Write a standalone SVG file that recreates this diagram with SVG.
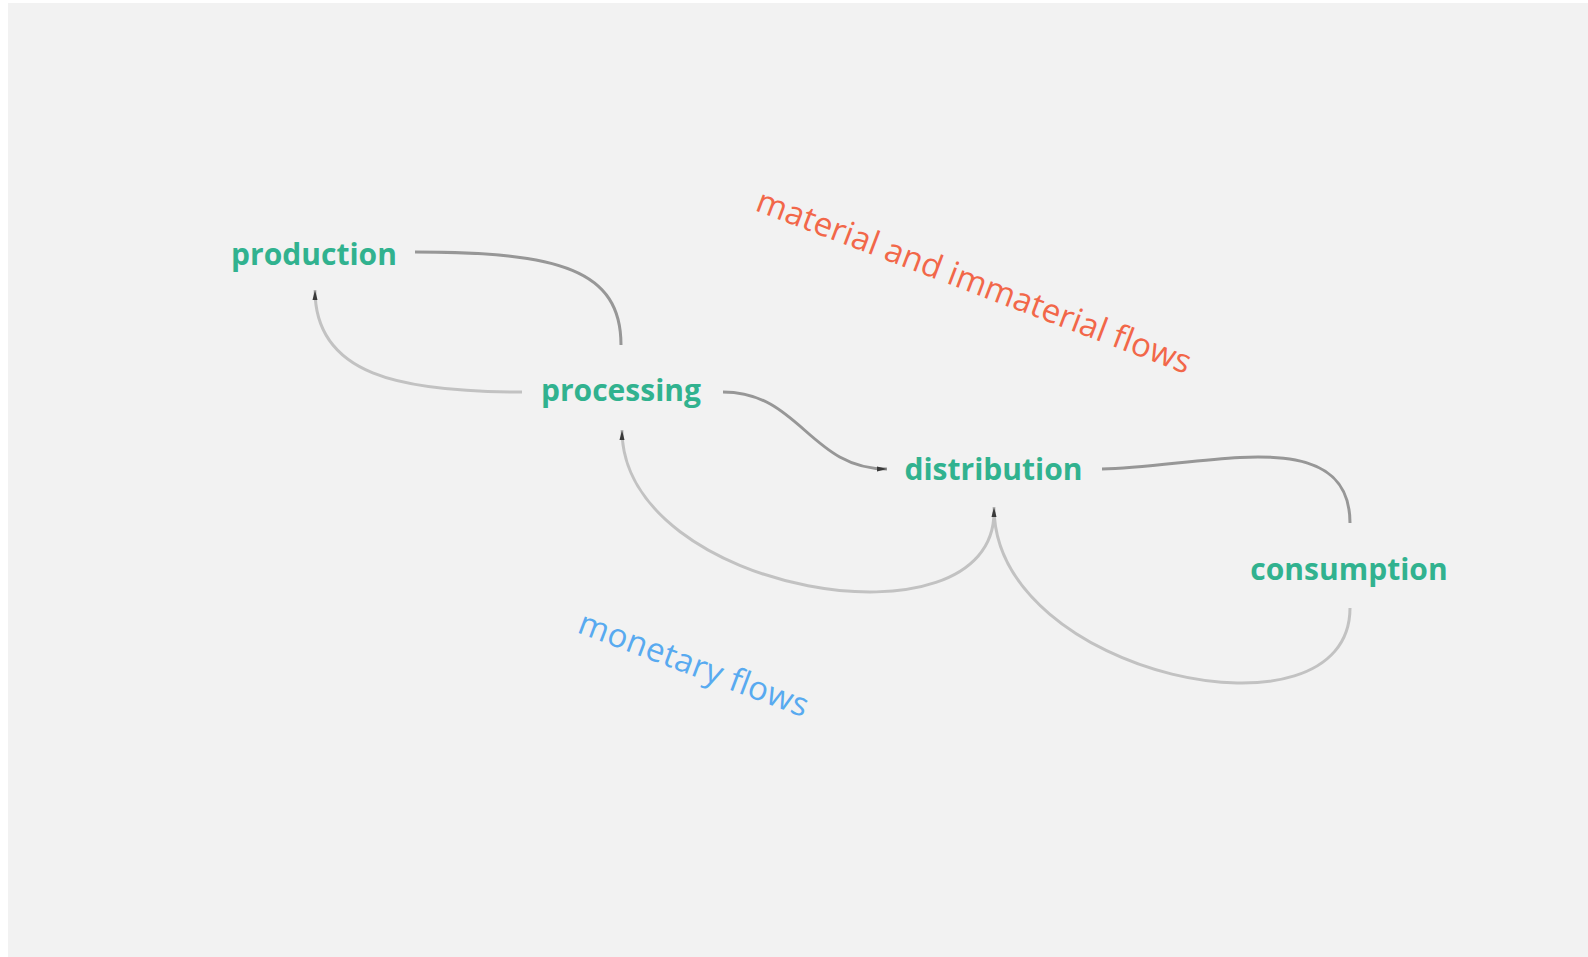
<svg xmlns="http://www.w3.org/2000/svg" width="1588" height="957" viewBox="0 0 1588 957">
  <style>
    .node text { font-family: "Open Sans", "Liberation Sans", sans-serif; font-weight: 700; font-size: 30px; fill: #31b28f; text-anchor: middle; }
    .edge { fill: none; stroke-width: 3; stroke-linecap: butt; }
    .edge.flow { stroke: #979797; }
    .edge.money { stroke: #c2c2c2; }
    .caption { font-family: "Open Sans", "Liberation Sans", sans-serif; font-size: 33px; }
  </style>
  <defs>
    <marker id="tip" viewBox="0 0 10 6" refX="10" refY="3" markerWidth="10" markerHeight="6" markerUnits="userSpaceOnUse" orient="auto">
      <path d="M0,0.5 L10,3 L0,5.5 z" fill="#3a3a3a"/>
    </marker>
  </defs>

  <rect x="0" y="0" width="1588" height="957" fill="#ffffff"/>
  <rect x="8" y="3" width="1580" height="954" fill="#f2f2f2"/>

  <!-- connectors -->
  <g id="connectors">
    <path class="edge flow" d="M415,252 C560,252 621,270 621,345"/>
    <path class="edge money" d="M522,392 C400,392 315,375 315,290" marker-end="url(#tip)"/>
    <path class="edge flow" d="M723,392 C800,392 810,469 887,469" marker-end="url(#tip)"/>
    <path class="edge money" d="M994,512 C994,655 622,593 622,430" marker-end="url(#tip)"/>
    <path class="edge flow" d="M1102,469 C1200,468 1350,420 1350,523"/>
    <path class="edge money" d="M1350,608 C1350,750 994,676 994,507" marker-end="url(#tip)"/>
  </g>

  <!-- nodes -->
  <g id="production" class="node"><text x="314" y="265">production</text></g>
  <g id="processing" class="node"><text x="621" y="401">processing</text></g>
  <g id="distribution" class="node"><text x="993.5" y="480">distribution</text></g>
  <g id="consumption" class="node"><text x="1349" y="580">consumption</text></g>

  <!-- flow captions -->
  <text class="caption" fill="#f26749" transform="translate(754,210) rotate(20.8)" textLength="462">material and immaterial flows</text>
  <text class="caption" fill="#58aaf0" transform="translate(576,632) rotate(20.6)" textLength="243">monetary flows</text>
</svg>
